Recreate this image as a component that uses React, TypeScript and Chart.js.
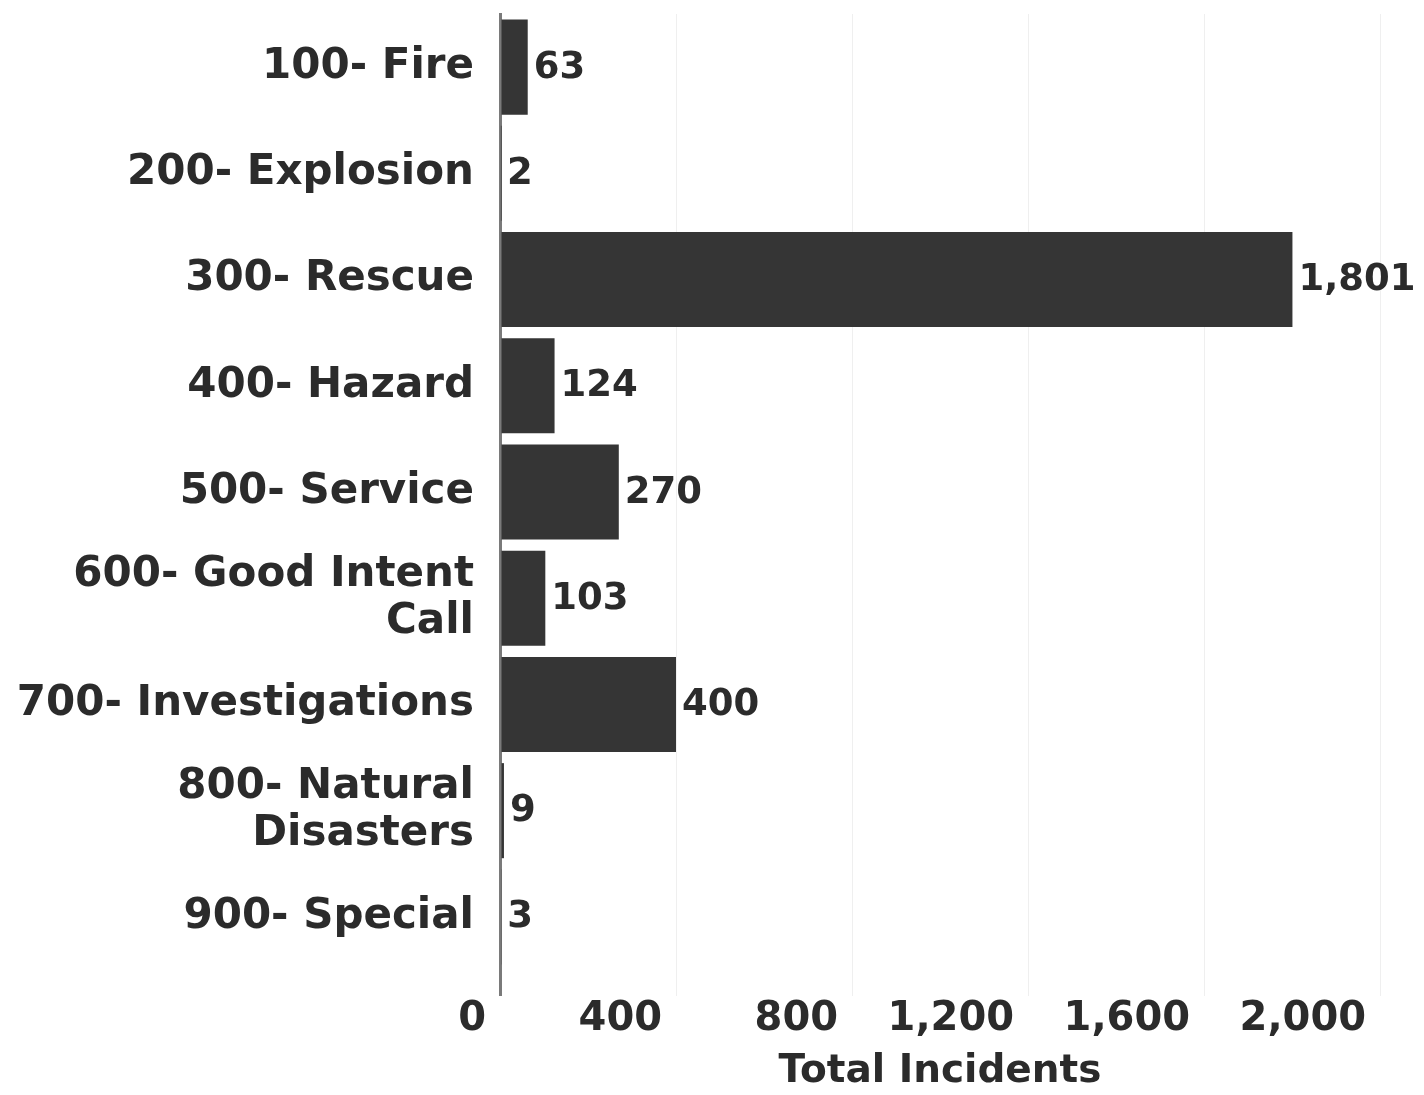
import React, { useEffect, useRef } from "react";
import { Chart, registerables } from "chart.js";

Chart.register(...registerables);

const categories: (string | string[])[] = [
  "100- Fire",
  "200- Explosion",
  "300- Rescue",
  "400- Hazard",
  "500- Service",
  ["600- Good Intent", "Call"],
  "700- Investigations",
  ["800- Natural", "Disasters"],
  "900- Special",
];
const incidents: number[] = [63, 2, 1801, 124, 270, 103, 400, 9, 3];
const xTicks: number[] = [0, 400, 800, 1200, 1600, 2000];
const axisTitle = "Total Incidents";

const FONT = "'DejaVu Sans', sans-serif";
const TEXT = "#2b2b2b";
const BAR = "#353535";

const valueLabels = {
  id: "valueLabels",
  afterDatasetsDraw(chart: any) {
    const { ctx } = chart;
    const meta = chart.getDatasetMeta(0);
    ctx.save();
    ctx.font = `bold 37px ${FONT}`;
    ctx.fillStyle = TEXT;
    ctx.textAlign = "left";
    ctx.textBaseline = "middle";
    meta.data.forEach((bar: any, i: number) => {
      const v = incidents[i];
      ctx.fillText(v.toLocaleString("en-US"), bar.x + 6, bar.y + 1);
    });
    ctx.restore();
  },
};

export default function App() {
  const ref = useRef<HTMLCanvasElement | null>(null);
  useEffect(() => {
    if (!ref.current) return;
    const chart = new Chart(ref.current, {
      type: "bar",
      data: {
        labels: categories,
        datasets: [
          {
            data: incidents,
            backgroundColor: BAR,
            borderWidth: 0,
            barPercentage: 1,
            categoryPercentage: 0.895,
          },
        ],
      },
      options: {
        indexAxis: "y",
        animation: false,
        responsive: false,
        maintainAspectRatio: false,
        layout: { padding: { top: 14, right: 44, bottom: 0, left: 8 } },
        plugins: {
          legend: { display: false },
          tooltip: { enabled: false },
        },
        scales: {
          x: {
            type: "linear",
            min: 0,
            max: 2000,
            afterBuildTicks: (scale: any) => {
              scale.ticks = xTicks.map((v) => ({ value: v }));
            },
            afterFit: (scale: any) => {
              scale.height = 125;
              scale.paddingLeft = 0;
              scale.paddingRight = 0;
            },
            grid: {
              color: (c: any) => (c.index === 0 ? "#7a7a7a" : "#efefef"),
              lineWidth: (c: any) => (c.index === 0 ? 3 : 1),
              drawTicks: true,
              tickLength: 26,
            },
            border: { display: false },
            ticks: {
              align: "end",
              padding: 0,
              color: TEXT,
              font: { family: FONT, size: 40, weight: "bold" },
              callback: (v: any) => Number(v).toLocaleString("en-US") + " ",
            },
            title: {
              display: true,
              text: axisTitle,
              color: TEXT,
              padding: 0,
              font: { family: FONT, size: 39, weight: "bold", lineHeight: 1.2 },
            },
          },
          y: {
            afterFit: (scale: any) => {
              scale.width = 492;
              scale.paddingTop = 0;
              scale.paddingBottom = 0;
            },
            grid: { display: false, drawTicks: false },
            border: { display: true, color: "#7a7a7a", width: 3 },
            ticks: {
              padding: 26,
              color: TEXT,
              font: { family: FONT, size: 42, weight: "bold", lineHeight: 1.12 },
            },
          },
        },
      },
      plugins: [valueLabels],
    });
    return () => chart.destroy();
  }, []);
  return (
    <div style={{ position: "absolute", left: 0, top: 0, width: 1424, height: 1095, background: "#fff" }}>
      <canvas ref={ref} width={1424} height={1095} style={{ width: 1424, height: 1095, display: "block" }} />
    </div>
  );
}
